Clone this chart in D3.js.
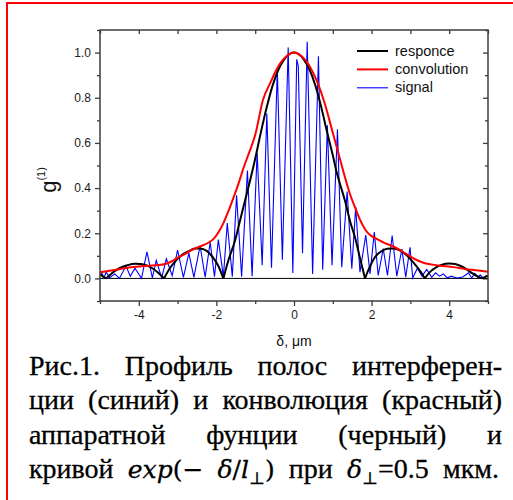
<!DOCTYPE html>
<html>
<head>
<meta charset="utf-8">
<script src="https://cdn.jsdelivr.net/npm/d3@7"></script>
<style>
  html, body { margin: 0; padding: 0; background: #ffffff; }
  svg { display: block; }
  .tick text { font-family: Arial, "Liberation Sans", sans-serif; font-size: 12px; fill: #1a1a1a; }
</style>
</head>
<body>
<svg id="fig" width="513" height="500"></svg>
<script>
// Apparatus response (black)
const responceX = [-5.00, -4.92, -4.84, -4.70, -4.50, -4.30, -4.10, -3.95, -3.80, -3.65, -3.50, -3.35,
  -3.20, -3.05, -2.90, -2.72, -2.55, -2.42, -2.25, -2.10, -1.95, -1.82,
  -1.70, -1.52, -1.40, -1.26, -1.13, -1.00, -0.85, -0.70, -0.55, -0.40, -0.25, -0.10, 0.00,
  0.10, 0.25, 0.40, 0.55, 0.70, 0.85, 1.00, 1.10, 1.20, 1.31, 1.45, 1.57, 1.70, 1.83,
  1.95, 2.09, 2.25, 2.40, 2.55, 2.68, 2.80, 2.92, 3.03, 3.15, 3.27, 3.37,
  3.50, 3.65, 3.80, 4.00, 4.15, 4.30, 4.45, 4.60, 4.72, 4.84, 4.92, 5.00];
const responceY = [0.018, 0.008, 0.000, 0.022, 0.045, 0.058, 0.065, 0.064, 0.058, 0.045, 0.025, 0.000,
  0.045, 0.078, 0.102, 0.120, 0.132, 0.133, 0.122, 0.095, 0.055, 0.000,
  0.075, 0.168, 0.250, 0.346, 0.435, 0.530, 0.650, 0.760, 0.855, 0.925, 0.970, 0.995, 1.000,
  0.995, 0.970, 0.925, 0.855, 0.760, 0.650, 0.545, 0.470, 0.410, 0.346, 0.250, 0.183, 0.090, 0.000,
  0.050, 0.095, 0.120, 0.131, 0.133, 0.128, 0.117, 0.100, 0.080, 0.055, 0.028, 0.000,
  0.028, 0.048, 0.060, 0.066, 0.064, 0.055, 0.040, 0.022, 0.010, 0.000, 0.006, 0.012];

// Convolution (red)
const convolutionX = [-5.00, -4.75, -4.50, -4.25, -4.00, -3.75, -3.50, -3.30, -3.15, -3.00, -2.80, -2.64, -2.42,
  -2.21, -2.08, -1.95, -1.82, -1.69, -1.56, -1.43, -1.30, -1.15, -1.00, -0.80, -0.60, -0.45, -0.30, -0.15, 0.00,
  0.15, 0.30, 0.45, 0.60, 0.80, 1.00, 1.12, 1.31, 1.44, 1.57, 1.70, 1.83, 1.96, 2.09, 2.30, 2.60,
  2.86, 3.11, 3.35, 3.60, 3.85, 4.10, 4.40, 4.75, 5.00];
const convolutionY = [0.027, 0.034, 0.041, 0.048, 0.053, 0.056, 0.059, 0.065, 0.076, 0.092, 0.109, 0.125, 0.142,
  0.158, 0.174, 0.203, 0.245, 0.298, 0.358, 0.420, 0.490, 0.560, 0.635, 0.790, 0.870, 0.925, 0.965, 0.990, 1.000,
  0.990, 0.965, 0.925, 0.870, 0.770, 0.645, 0.570, 0.450, 0.375, 0.316, 0.260, 0.218, 0.192, 0.178, 0.160, 0.138,
  0.112, 0.086, 0.068, 0.060, 0.055, 0.050, 0.042, 0.035, 0.029];

// Interference fringe signal (blue), peaks and troughs
const signalX = [-5.00, -4.95, -4.90, -4.84, -4.75, -4.62, -4.50, -4.33, -4.22, -4.10, -3.93, -3.79, -3.65,
  -3.55, -3.41, -3.29, -3.14, -3.00, -2.85, -2.71, -2.58, -2.42, -2.29, -2.16, -2.05, -1.95, -1.82,
  -1.72, -1.59, -1.48, -1.35, -1.20, -1.08, -0.95, -0.82, -0.70, -0.58, -0.43, -0.30, -0.15, -0.03,
  0.07, 0.11, 0.22, 0.34, 0.48, 0.63, 0.74, 0.86, 0.98, 1.12, 1.23, 1.37, 1.49, 1.59, 1.70,
  1.85, 1.96, 2.07, 2.17, 2.30, 2.41, 2.53, 2.65, 2.78, 2.88, 2.99, 3.06, 3.18, 3.30, 3.42,
  3.55, 3.65, 3.75, 3.85, 3.95, 4.05, 4.20, 4.35, 4.50, 4.58, 4.66, 4.73, 4.80, 4.88, 4.95, 5.00];
const signalY = [0.010, 0.022, 0.002, 0.028, 0.003, 0.020, 0.000, 0.055, 0.010, 0.045, 0.000, 0.118, 0.002,
  0.080, 0.002, 0.087, 0.012, 0.125, 0.005, 0.112, 0.005, 0.145, 0.006, 0.160, 0.008, 0.172, 0.008,
  0.245, 0.008, 0.368, 0.008, 0.478, 0.010, 0.556, 0.058, 0.730, 0.047, 0.925, 0.083, 1.023, 0.024,
  0.970, 0.940, 0.112, 1.048, 0.020, 0.984, 0.038, 0.678, 0.058, 0.660, 0.050, 0.385, 0.043, 0.316, 0.028,
  0.192, 0.020, 0.205, 0.013, 0.132, 0.013, 0.190, 0.010, 0.130, 0.005, 0.138, 0.002, 0.045, 0.010, 0.040,
  0.005, 0.025, 0.010, 0.020, 0.002, 0.010, 0.002, 0.006, 0.025, 0.002, 0.022, 0.005, 0.015, 0.001, 0.012, 0.005];

const xMajorTicks = [-4, -2, 0, 2, 4];
const xMinorTicks = [-5, -3, -1, 1, 3, 5];
const yMajorTicks = [0.0, 0.2, 0.4, 0.6, 0.8, 1.0];
const yMinorTicks = [-0.1, 0.1, 0.3, 0.5, 0.7, 0.9, 1.1];

const seriesNames = ["responce", "convolution", "signal"];
const seriesColors = ["#000000", "#ff0000", "#0000ff"];

const svg = d3.select("#fig");

// Page frame
svg.append("line").attr("x1", 7).attr("x2", 7).attr("y1", 3).attr("y2", 500)
  .attr("stroke", "#ff0000").attr("stroke-width", 2);
svg.append("line").attr("x1", 6).attr("x2", 513).attr("y1", 3).attr("y2", 3)
  .attr("stroke", "#ff0000").attr("stroke-width", 2);

const plot = { left: 100, right: 488, top: 30, bottom: 301 };
const x = d3.scaleLinear().domain([-5, 5]).range([plot.left, plot.right]);
const y = d3.scaleLinear().domain([-0.1, 1.1]).range([plot.bottom, plot.top]);

const frameColor = "#3c3c3c";

function styleAxis(g) {
  g.select(".domain").remove();
  g.selectAll(".tick line").attr("stroke", frameColor).attr("stroke-width", 1.3);
}

const hyphenFormat = d => (d < 0 ? "-" : "") + Math.abs(d);

// Bottom axis
svg.append("g").attr("transform", `translate(0,${plot.bottom})`)
  .call(d3.axisBottom(x).tickValues(xMajorTicks).tickSize(5).tickPadding(4).tickFormat(hyphenFormat))
  .call(styleAxis);
svg.append("g").attr("transform", `translate(0,${plot.bottom})`)
  .call(d3.axisBottom(x).tickValues(xMinorTicks).tickSize(3).tickFormat(""))
  .call(styleAxis);
// Top axis (inward ticks)
svg.append("g").attr("transform", `translate(0,${plot.top})`)
  .call(d3.axisTop(x).tickValues(xMajorTicks.concat(xMinorTicks)).tickSize(-4).tickFormat(""))
  .call(styleAxis);
// Left axis
svg.append("g").attr("transform", `translate(${plot.left},0)`)
  .call(d3.axisLeft(y).tickValues(yMajorTicks).tickSize(5).tickPadding(4).tickFormat(d3.format(".1f")))
  .call(styleAxis);
svg.append("g").attr("transform", `translate(${plot.left},0)`)
  .call(d3.axisLeft(y).tickValues(yMinorTicks).tickSize(3).tickFormat(""))
  .call(styleAxis);
// Right axis (inward ticks)
svg.append("g").attr("transform", `translate(${plot.right},0)`)
  .call(d3.axisRight(y).tickValues(yMajorTicks).tickSize(-5).tickFormat(""))
  .call(styleAxis);
svg.append("g").attr("transform", `translate(${plot.right},0)`)
  .call(d3.axisRight(y).tickValues(yMinorTicks).tickSize(-3).tickFormat(""))
  .call(styleAxis);

// Zero line
svg.append("line").attr("x1", plot.left).attr("x2", plot.right)
  .attr("y1", y(0)).attr("y2", y(0)).attr("stroke", "#000").attr("stroke-width", 1);

svg.append("clipPath").attr("id", "plotclip").append("rect")
  .attr("x", plot.left).attr("y", plot.top)
  .attr("width", plot.right - plot.left).attr("height", plot.bottom - plot.top);

const layer = svg.append("g").attr("clip-path", "url(#plotclip)");

const zip = (xs, ys) => xs.map((v, i) => [v, ys[i]]);

// Signal
layer.append("path").datum(zip(signalX, signalY))
  .attr("fill", "none").attr("stroke", seriesColors[2]).attr("stroke-width", 1.1)
  .attr("d", d3.line().x(d => x(d[0])).y(d => y(d[1])));

// Response: split into lobes at its zeros so the cusps stay sharp
const respPts = zip(responceX, responceY);
const lobes = [];
let cur = [];
respPts.forEach(p => {
  cur.push(p);
  if (p[1] === 0 && cur.length > 1) { lobes.push(cur); cur = [p]; }
});
if (cur.length > 1) lobes.push(cur);
const smooth = d3.line().x(d => x(d[0])).y(d => y(d[1])).curve(d3.curveMonotoneX);
lobes.forEach(l => {
  layer.append("path").datum(l).attr("fill", "none")
    .attr("stroke", seriesColors[0]).attr("stroke-width", 2).attr("d", smooth);
});

// Convolution
layer.append("path").datum(zip(convolutionX, convolutionY))
  .attr("fill", "none").attr("stroke", seriesColors[1]).attr("stroke-width", 2)
  .attr("d", smooth);

// Frame
svg.append("rect").attr("x", plot.left).attr("y", plot.top)
  .attr("width", plot.right - plot.left).attr("height", plot.bottom - plot.top)
  .attr("fill", "none").attr("stroke", frameColor).attr("stroke-width", 1.5);

// Legend
const legend = svg.append("g").attr("transform", "translate(357,51)");
seriesNames.forEach((name, i) => {
  const row = legend.append("g").attr("transform", `translate(0,${i * 18.4})`);
  row.append("line").attr("x1", 0).attr("x2", 31).attr("y1", 0).attr("y2", 0)
    .attr("stroke", seriesColors[i]).attr("stroke-width", i === 2 ? 1.1 : 2);
  row.append("text").attr("x", 38).attr("y", 4.5)
    .attr("font-family", "Arial, 'Liberation Sans', sans-serif").attr("font-size", 14.5)
    .attr("fill", "#111").text(name);
});

// Axis titles
svg.append("text").attr("x", 294).attr("y", 346).attr("text-anchor", "middle")
  .attr("font-family", "Arial, 'Liberation Sans', sans-serif").attr("font-size", 14)
  .attr("fill", "#111").text("δ, μm");

const yt = svg.append("text").attr("transform", "translate(56,180) rotate(-90)")
  .attr("text-anchor", "middle")
  .attr("font-family", "Arial, 'Liberation Sans', sans-serif").attr("fill", "#111");
yt.append("tspan").attr("font-size", 22).text("g");
yt.append("tspan").attr("font-size", 11).attr("dy", -11).text("(1)");

// Caption (justified paragraph)
const capFont = "'Liberation Serif', 'Times New Roman', serif";
const mathFont = "'DejaVu Serif', serif";
const capSize = 28;
const capLeft = 29, capRight = 502;

function captionWord(parent, y, parts) {
  const t = parent.append("text").attr("y", y)
    .attr("font-family", capFont).attr("font-size", capSize)
    .attr("fill", "#000").attr("stroke", "#000").attr("stroke-width", 0.3);
  parts.forEach(p => {
    const s = t.append("tspan").text(p.t);
    if (p.math) s.attr("font-family", mathFont).attr("font-style", "italic").attr("font-size", 25);
    if (p.up) s.attr("font-family", mathFont).attr("font-size", 25);
    if (p.sub) s.attr("font-family", mathFont).attr("font-size", 17).attr("dy", 6);
    if (p.back) s.attr("dy", -6);
  });
  return t;
}

function justify(y, groups, right) {
  const nodes = groups.map(g => captionWord(svg, y, typeof g === "string" ? [{ t: g }] : g));
  const widths = nodes.map(n => n.node().getComputedTextLength());
  const gap = (right - capLeft - d3.sum(widths)) / (nodes.length - 1);
  let pos = capLeft;
  nodes.forEach((n, i) => { n.attr("x", pos); pos += widths[i] + gap; });
}

justify(375, ["Рис.1.", "Профиль", "полос", "интерферен-"], capRight);
justify(409, ["ции", "(синий)", "и", "конволюция", "(красный)"], capRight);
justify(444, ["аппаратной", "фунции", "(черный)", "и"], capRight);
justify(478, [
  "кривой",
  [{ t: "exp", math: true }, { t: "(−", up: true }],
  [{ t: "δ", math: true }, { t: "/", up: true }, { t: "l", math: true }, { t: "⊥", sub: true }, { t: ")", up: true, back: true }],
  "при",
  [{ t: "δ", math: true }, { t: "⊥", sub: true }, { t: "=0.5", back: true }],
  "мкм."
], 499);
</script>
</body>
</html>
